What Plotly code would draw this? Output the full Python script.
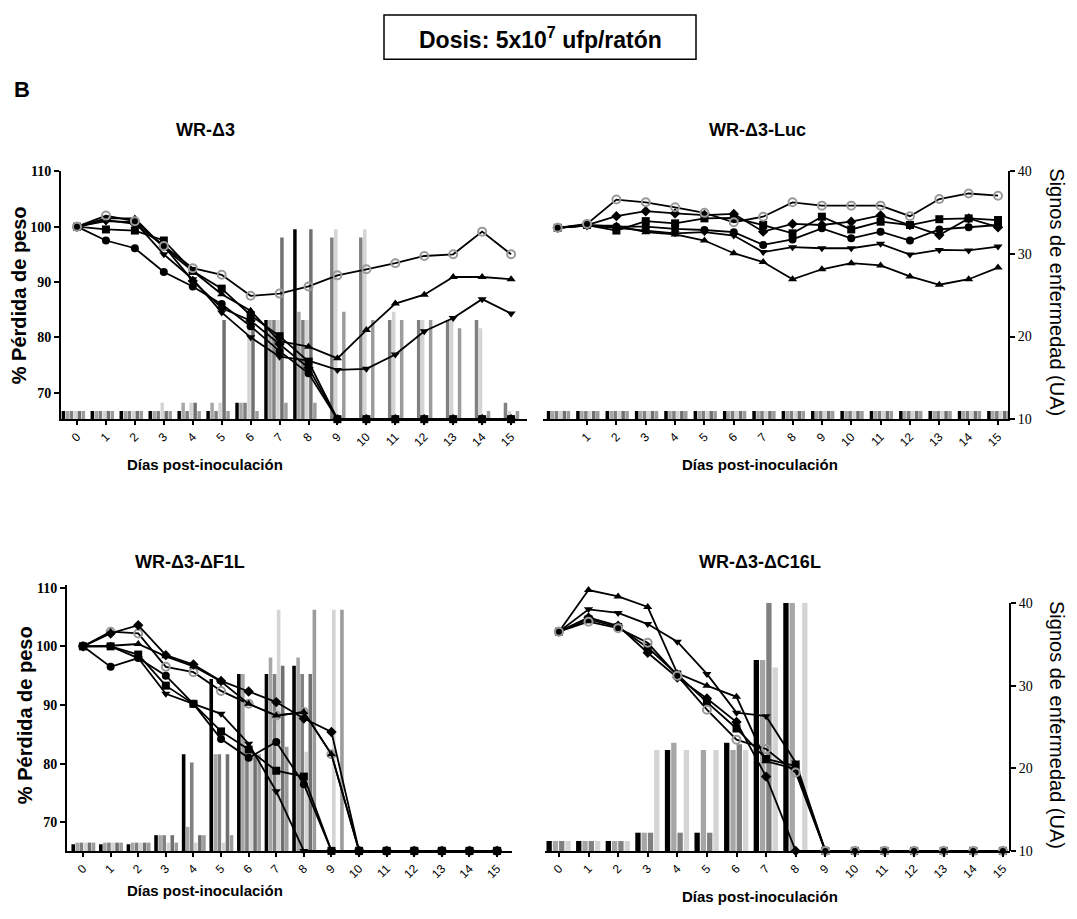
import plotly.graph_objects as go

# Page is 1077x919; the default HTML body margin is 8px, so the figure is 1061x903
PAGE_W, PAGE_H = 1077, 919
M = 8
W, H = PAGE_W - 2 * M, PAGE_H - 2 * M
def px(x): return (x - M) / W
def py(y): return 1 - (y - M) / H

days = list(range(16))
luc_ticks = list(range(1, 16))

DA = 65.2    # value at bottom of axis (dead) top panels
DC = 65.14   # value at bottom of axis (dead) bottom panels

# ---------------- Panel A: WR-Δ3 (weight %) ----------------
a_open = [100, 102.0, 101.0, 96.5, 92.5, 91.3, 87.5, 87.9, 89.2, 91.2, 92.3, 93.4, 94.7, 95.0, 99.1, 95.0]
a_tup  = [100, 101.5, 101.5, 96.2, 92.0, 87.8, 84.8, 79.3, 78.3, 76.2, 81.3, 86.1, 87.7, 90.9, 90.9, 90.5]
a_tdn  = [100, 101.0, 100.8, 95.0, 90.5, 84.5, 80.0, 76.5, 75.8, 74.1, 74.3, 76.9, 81.1, 83.5, 86.9, 84.3]
a_circ = [100, 97.5, 96.1, 91.8, 89.2, 86.0, 82.0, 77.5, 73.5, DA, DA, DA, DA, DA, DA, DA]
a_sq   = [100, 99.5, 99.3, 97.5, 92.0, 88.8, 84.0, 80.2, 75.6, DA, DA, DA, DA, DA, DA, DA]
a_dia  = [100, 101.2, 100.5, 96.5, 90.2, 85.3, 83.0, 78.8, 74.5, DA, DA, DA, DA, DA, DA, DA]
# Panel A disease signs (UA), 6 mice
a_bar0 = [11, 11, 11, 11, 11, 11, 12, 22, 33, 0, 0, 0, 0, 0, 0, 0]
a_bar1 = [11, 11, 11, 11, 12, 12, 12, 22, 23, 0, 0, 0, 0, 0, 0, 0]
a_bar2 = [11, 11, 11, 11, 11, 11, 12, 22, 22, 32, 32, 22, 22, 22, 22, 12]
a_bar3 = [11, 11, 11, 12, 12, 12, 22, 22, 22, 33, 33, 23, 22, 22, 21, 11]
a_bar4 = [11, 11, 11, 11, 12, 22, 21.5, 32, 33, 0, 0, 0, 0, 0, 0, 0]
a_bar5 = [11, 11, 11, 11, 11, 11, 11, 12, 12, 23, 22, 22, 22, 21, 11, 11]

# ---------------- Panel B: WR-Δ3-Luc ----------------
b_open = [99.8, 100.5, 104.9, 104.4, 103.5, 102.5, 100.8, 101.8, 104.4, 103.8, 103.8, 103.8, 101.9, 105.0, 106.0, 105.6]
b_dia  = [99.8, 100.3, 101.9, 102.8, 102.4, 102.1, 102.3, 99.1, 100.5, 100.3, 100.9, 102.05, 100.3, 98.5, 101.5, 99.9]
b_sq   = [99.8, 100.3, 99.3, 101.0, 100.6, 101.5, 101.6, 100.3, 98.8, 101.8, 99.5, 100.9, 100.3, 101.35, 101.5, 101.2]
b_circ = [99.8, 100.3, 100.0, 100.0, 99.6, 99.4, 99.0, 96.7, 97.7, 99.7, 97.9, 99.1, 97.5, 99.5, 99.9, 100.3]
b_tdn  = [99.8, 100.2, 99.8, 99.3, 98.8, 99.0, 98.4, 95.4, 96.3, 96.1, 96.1, 96.9, 94.95, 95.8, 95.7, 96.4]
b_tup  = [99.8, 100.2, 100.2, 99.0, 98.6, 97.5, 95.2, 93.6, 90.5, 92.3, 93.4, 93.0, 91.0, 89.5, 90.5, 92.6]
b_bar0 = [11, 11, 11, 11, 11, 11, 11, 11, 11, 11, 11, 11, 11, 11, 11, 11]
b_bar1 = [11, 11, 11, 11, 11, 11, 11, 11, 11, 11, 11, 11, 11, 11, 11, 11]
b_bar2 = [11, 11, 11, 11, 11, 11, 11, 11, 11, 11, 11, 11, 11, 11, 11, 11]
b_bar3 = [11, 11, 11, 11, 11, 11, 11, 11, 11, 11, 11, 11, 11, 11, 11, 11]
b_bar4 = [11, 11, 11, 11, 11, 11, 11, 11, 11, 11, 11, 11, 11, 11, 11, 11]
b_bar5 = [11, 11, 11, 11, 11, 11, 11, 11, 11, 11, 11, 11, 11, 11, 11, 11]

# ---------------- Panel C: WR-Δ3-ΔF1L ----------------
c_open = [100, 102.5, 102.2, 96.5, 95.6, 92.4, 90.2, 88.2, 88.8, 81.6, DC, DC, DC, DC, DC, DC]
c_dia  = [100, 102.2, 103.6, 98.5, 96.9, 94.1, 92.3, 90.5, 87.7, 85.4, DC, DC, DC, DC, DC, DC]
c_tup  = [100, 100.1, 100.4, 98.3, 96.6, 94.0, 90.2, 88.2, 88.8, 81.6, DC, DC, DC, DC, DC, DC]
c_sq   = [100, 100.0, 98.6, 93.3, 90.2, 85.5, 82.4, 78.8, 77.8, DC, DC, DC, DC, DC, DC, DC]
c_circ = [100, 96.5, 98.0, 95.0, 90.2, 84.2, 81.0, 83.7, 76.5, DC, DC, DC, DC, DC, DC, DC]
c_tdn  = [100, 100.0, 98.0, 91.9, 90.2, 88.5, 83.4, 75.3, DC, DC, DC, DC, DC, DC, DC, DC]
c_bar0 = [10.8, 10.8, 10.8, 11.9, 21.7, 30.8, 31.4, 31.4, 32.4, 0, 0, 0, 0, 0, 0, 0]
c_bar1 = [11, 11, 11, 11.9, 12.9, 21.7, 31.4, 33.4, 33.4, 0, 0, 0, 0, 0, 0, 0]
c_bar2 = [11, 11, 11, 11.9, 20.7, 21.7, 21.7, 31.4, 31.4, 0, 0, 0, 0, 0, 0, 0]
c_bar3 = [11, 11, 11, 11, 11, 11, 21.7, 39.2, 22, 39.2, 0, 0, 0, 0, 0, 0]
c_bar4 = [11, 11, 11, 11.9, 11.9, 21.7, 21.7, 32.4, 31.4, 0, 0, 0, 0, 0, 0, 0]
c_bar5 = [11, 11, 11, 11, 11.9, 11.9, 21.7, 22.6, 39.2, 39.2, 0, 0, 0, 0, 0, 0]

# ---------------- Panel D: WR-Δ3-ΔC16L ----------------
d_tup  = [102.5, 109.6, 108.5, 106.7, 95.4, 93.3, 91.4, 80.4, 79.1, DC, DC, DC, DC, DC, DC, DC]
d_tdn  = [102.5, 106.3, 105.7, 103.8, 100.8, 95.3, 88.7, 88.1, 80.2, DC, DC, DC, DC, DC, DC, DC]
d_dia  = [102.5, 104.9, 103.5, 98.9, 94.7, 91.1, 87.1, 77.8, DC, DC, DC, DC, DC, DC, DC, DC]
d_open = [102.5, 104.2, 103.1, 100.6, 95.0, 89.2, 84.1, 82.5, 78.5, DC, DC, DC, DC, DC, DC, DC]
d_sq   = [102.5, 104.6, 103.3, 99.8, 95.2, 90.5, 86.0, 80.8, 79.6, DC, DC, DC, DC, DC, DC, DC]
d_bar0 = [11.2, 11.2, 11.2, 12.2, 22.2, 12.2, 23.1, 33.1, 40, 0, 0, 0, 0, 0, 0, 0]
d_bar1 = [11.2, 11.2, 11.2, 12.2, 23.1, 22.2, 22.2, 33.1, 40, 0, 0, 0, 0, 0, 0, 0]
d_bar2 = [11.2, 11.2, 11.2, 12.2, 12.2, 12.2, 22.9, 40, 0, 0, 0, 0, 0, 0, 0, 0]
d_bar3 = [11.2, 11.2, 11.2, 22.2, 22.2, 22.2, 22.2, 32.2, 40, 0, 0, 0, 0, 0, 0, 0]

titles = ["WR-Δ3", "WR-Δ3-Luc", "WR-Δ3-ΔF1L", "WR-Δ3-ΔC16L"]
x_title = "Días post-inoculación"
yl_title = "% Pérdida de peso"
yr_title = "Signos de enfermedad (UA)"

# ---------------- styling ----------------
bar_colors6 = ['#000000', '#a6a6a6', '#808080', '#d4d4d4', '#707070', '#9c9c9c']
bar_colors4 = ['#000000', '#a6a6a6', '#808080', '#d4d4d4']
SANS = "Liberation Sans, Arial, sans-serif"
SERIF = "Liberation Serif, Times New Roman, serif"

fig = go.Figure()

def add_bars(series, colors, xa, ya, start, step, width):
    for i, (vals, col) in enumerate(zip(series, colors)):
        fig.add_trace(go.Bar(x=days, y=vals, offset=start + i * step, width=width,
                             marker=dict(color=col, line=dict(width=0)),
                             xaxis=xa, yaxis=ya, hoverinfo='skip'))

def add_line(vals, symbol, xa, ya, size=8, open_grey=False):
    if open_grey:
        mk = dict(symbol='circle-open', size=8, color='#9a9a9a', line=dict(width=2, color='#9a9a9a'))
    else:
        mk = dict(symbol=symbol, size=size, color='black')
    fig.add_trace(go.Scatter(x=days, y=vals, mode='lines+markers',
                             line=dict(color='black', width=1.8), marker=mk,
                             xaxis=xa, yaxis=ya, cliponaxis=False, hoverinfo='skip'))

# Panel A: bars on y (hidden), lines on y2 (visible left)
add_bars([a_bar0, a_bar1, a_bar2, a_bar3, a_bar4, a_bar5], bar_colors6, 'x', 'y', -0.53, 0.138, 0.12)
for v, s in [(a_circ, 'circle'), (a_sq, 'square'), (a_dia, 'diamond'), (a_tdn, 'triangle-down'), (a_tup, 'triangle-up')]:
    add_line(v, s, 'x', 'y2')
add_line(a_open, None, 'x', 'y2', open_grey=True)

# Panel B: bars on y3 (visible right), lines on y4 (hidden)
add_bars([b_bar0, b_bar1, b_bar2, b_bar3, b_bar4, b_bar5], bar_colors6, 'x2', 'y3', -0.37, 0.135, 0.12)
for v, s in [(b_circ, 'circle'), (b_sq, 'square'), (b_dia, 'diamond'), (b_tdn, 'triangle-down'), (b_tup, 'triangle-up')]:
    add_line(v, s, 'x2', 'y4')
add_line(b_open, None, 'x2', 'y4', open_grey=True)

# Panel C: bars on y5 (hidden), lines on y6 (visible left)
add_bars([c_bar0, c_bar1, c_bar2, c_bar3, c_bar4, c_bar5], bar_colors6, 'x3', 'y5', -0.42, 0.147, 0.13)
add_line(c_open, None, 'x3', 'y6', open_grey=True)
for v, s in [(c_circ, 'circle'), (c_sq, 'square'), (c_dia, 'diamond'), (c_tdn, 'triangle-down'), (c_tup, 'triangle-up')]:
    add_line(v, s, 'x3', 'y6')

# Panel D: bars on y7 (visible right), lines on y8 (hidden)
add_bars([d_bar0, d_bar1, d_bar2, d_bar3], bar_colors4, 'x4', 'y7', -0.42, 0.2125, 0.18)
for v, s in [(d_sq, 'square'), (d_dia, 'diamond'), (d_tdn, 'triangle-down'), (d_tup, 'triangle-up')]:
    add_line(v, s, 'x4', 'y8')
add_line(d_open, None, 'x4', 'y8', open_grey=True)

# ---------------- axes ----------------
def xax(dom, rng, anchor, ticks):
    return dict(domain=dom, range=rng, anchor=anchor, tickvals=ticks, ticktext=[str(t) for t in ticks],
                tickangle=-45, ticks='outside', ticklen=4, tickwidth=1.5, tickcolor='black',
                showline=True, linewidth=2, linecolor='black', showgrid=False, zeroline=False,
                tickfont=dict(family=SANS, size=12, color='black'))

def ywt(rng, anchor, overlay, visible=True):
    return dict(range=rng, anchor=anchor, overlaying=overlay, side='left', visible=visible,
                tickvals=[70, 80, 90, 100, 110], ticks='outside', ticklen=5, tickwidth=1.5,
                tickcolor='black', showline=True, linewidth=2, linecolor='black', showgrid=False,
                zeroline=False, tickfont=dict(family=SERIF, size=14, color='black', weight='bold'))

def ybar(dom, rng, anchor, visible, showline=True):
    return dict(domain=dom, range=rng, anchor=anchor, side='right', visible=visible,
                tickvals=[10, 20, 30, 40], ticks='outside', ticklen=5, tickwidth=1.5, tickcolor='black',
                showline=showline, linewidth=2, linecolor='black', showgrid=False, zeroline=False,
                tickfont=dict(family=SERIF, size=14, color='black'))

top_dom = [py(419), py(167)]
bot_dom = [py(858), py(588)]
rngA = [65.2, 110]
rngC = [65.14, 110.39]

fig.update_layout(
    width=W, height=H, margin=dict(l=0, r=0, t=0, b=0),
    paper_bgcolor='white', plot_bgcolor='white', showlegend=False, barmode='overlay',
    xaxis=xax([px(61), px(527)], [-0.553, 15.55], 'y', days),
    yaxis=ybar(top_dom, [10, 40], 'x', False),
    yaxis2=ywt(rngA, 'x', 'y'),
    xaxis2=xax([px(543), px(1008)], [-0.5, 15.34], 'y3', luc_ticks),
    yaxis3=ybar(top_dom, [10, 40], 'x2', True),
    yaxis4=ywt(rngA, 'x2', 'y3', visible=False),
    xaxis3=xax([px(67), px(512)], [-0.58, 15.54], 'y5', days),
    yaxis5=ybar(bot_dom, [10, 42.14], 'x3', False),
    yaxis6=ywt(rngC, 'x3', 'y5'),
    xaxis4=xax([px(545), px(1010)], [-0.47, 15.24], 'y7', days),
    yaxis7=ybar(bot_dom, [10, 42.14], 'x4', True, showline=False),
    yaxis8=ywt(rngC, 'x4', 'y7', visible=False),
)

# right axis line for panel D (only from 10 to 40)
fig.add_shape(type='line', xref='paper', x0=px(1010), x1=px(1010), yref='y7', y0=10, y1=40,
              line=dict(color='black', width=2))

# header box
fig.add_shape(type='rect', xref='paper', yref='paper', x0=px(384), x1=px(696), y0=py(53), y1=py(8),
              line=dict(color='black', width=1.5))

def ann(text, x, y, size, bold=True, angle=0, family=SANS):
    fig.add_annotation(text=text, xref='paper', yref='paper', x=px(x), y=py(y), showarrow=False,
                       xanchor='center', yanchor='middle', textangle=angle,
                       font=dict(family=family, size=size, color='black', weight='bold' if bold else 'normal'))

ann("Dosis: 5x10<sup>7</sup> ufp/ratón", 540, 31, 23)
fig.add_annotation(text="B", xref='paper', yref='paper', x=px(12), y=py(84), showarrow=False,
                   xanchor='left', yanchor='middle', font=dict(family=SANS, size=22, color='black', weight='bold'))

ann(titles[0], 205, 125, 18)
ann(titles[1], 757, 125, 18)
ann(titles[2], 190, 564, 18)
ann(titles[3], 760, 564, 18)

ann(x_title, 205, 465, 15)
ann(x_title, 760, 465, 15)
ann(x_title, 205, 898, 15)
ann(x_title, 760, 904, 15)

ann(yl_title, 19, 293, 20, angle=-90)
ann(yl_title, 25, 720, 20, angle=-90)
ann(yr_title, 1057, 290, 20, bold=False, angle=90)
ann(yr_title, 1057, 730, 20, bold=False, angle=90)

fig.write_html("out.html")
